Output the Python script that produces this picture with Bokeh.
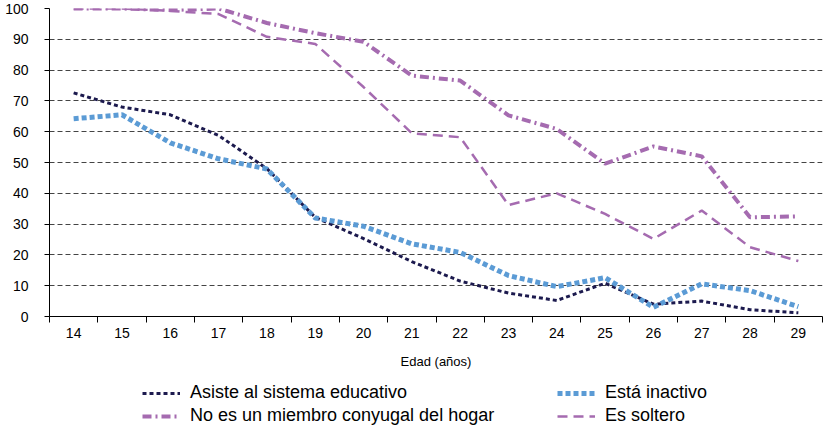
from bokeh.plotting import figure
from bokeh.layouts import column
from bokeh.models import Range1d, FixedTicker, Legend, LegendItem
from bokeh.embed import file_html
from bokeh.resources import INLINE

edades = [14, 15, 16, 17, 18, 19, 20, 21, 22, 23, 24, 25, 26, 27, 28, 29]
asiste = [72.6, 68.0, 65.5, 58.8, 48.0, 32.2, 25.3, 17.8, 11.5, 7.6, 5.2, 10.8, 4.0, 5.0, 2.2, 1.2]
inactivo = [64.2, 65.5, 56.4, 51.2, 47.9, 32.0, 29.3, 23.6, 20.8, 13.3, 9.7, 12.6, 3.0, 10.6, 8.4, 3.2]
no_conyugal = [100.0, 100.0, 99.5, 100.0, 95.3, 92.0, 89.2, 78.2, 76.6, 65.3, 60.9, 49.6, 55.2, 52.0, 32.2, 32.5]
soltero = [100.0, 100.0, 99.2, 98.2, 90.8, 88.5, 74.5, 59.5, 58.2, 36.2, 40.0, 33.3, 25.2, 34.4, 22.5, 18.0]
y_ticks = [0, 10, 20, 30, 40, 50, 60, 70, 80, 90, 100]
series = [asiste, inactivo, no_conyugal, soltero]
labels = ["Asiste al sistema educativo", "Está inactivo",
          "No es un miembro conyugal del hogar", "Es soltero"]

FONT = "Liberation Sans"
NAVY = "#1c1a4e"
BLUE = "#5b9bd5"
PURPLE = "#a56bb0"

STYLES = [
    dict(line_color=NAVY, line_width=3, line_dash="4 3"),
    dict(line_color=BLUE, line_width=5, line_dash="5 3"),
    dict(line_color=PURPLE, line_width=4, line_dash="9 4 2 4"),
    dict(line_color=PURPLE, line_width=2.5, line_dash="10 6"),
]

p = figure(frame_width=773, frame_height=308, output_backend="svg", toolbar_location=None,
           x_range=Range1d(13.5, 29.5), y_range=Range1d(0, 100),
           min_border_top=8, min_border_right=5, min_border_left=49, min_border_bottom=50)
p.outline_line_color = None

p.xaxis.ticker = FixedTicker(ticks=edades, minor_ticks=[e - 0.5 for e in edades] + [edades[-1] + 0.5])
p.xaxis.major_tick_line_color = None
p.xaxis.minor_tick_line_color = "black"
p.xaxis.minor_tick_out = 6
p.xaxis.minor_tick_in = 0
p.xaxis.axis_line_color = "black"
p.xaxis.major_label_text_font = FONT
p.xaxis.major_label_text_font_size = "14px"
p.xaxis.major_label_text_color = "black"
p.xaxis.major_label_standoff = 5
p.xaxis.axis_label = "Edad (años)"
p.xaxis.axis_label_text_font = FONT
p.xaxis.axis_label_text_font_size = "13px"
p.xaxis.axis_label_text_font_style = "normal"
p.xaxis.axis_label_text_color = "black"
p.xaxis.axis_label_standoff = 13

p.yaxis.ticker = FixedTicker(ticks=y_ticks)
p.yaxis.minor_tick_line_color = None
p.yaxis.major_tick_out = 5
p.yaxis.major_tick_in = 0
p.yaxis.major_tick_line_color = "black"
p.yaxis.axis_line_color = "black"
p.yaxis.major_label_text_font = FONT
p.yaxis.major_label_text_font_size = "14px"
p.yaxis.major_label_text_color = "black"
p.yaxis.major_label_standoff = 16

p.xgrid.grid_line_color = None
p.ygrid.ticker = FixedTicker(ticks=y_ticks)
p.ygrid.grid_line_color = "#444444"
p.ygrid.grid_line_dash = "5 3"
p.ygrid.grid_line_width = 1

for ys, st in zip(series, STYLES):
    p.line(edades, ys, **st)

# legend strip below the chart; its lines lie outside its (tiny) ranges, only the legend shows
q = figure(width=827, height=59, output_backend="svg", toolbar_location=None,
           x_range=Range1d(0, 1), y_range=Range1d(0, 1),
           x_axis_location=None, y_axis_location=None,
           min_border=0, min_border_left=0, min_border_right=0, min_border_top=0, min_border_bottom=0)
q.grid.visible = False
q.outline_line_color = None
lr = [q.line(edades, ys, **st) for ys, st in zip(series, STYLES)]


def make_legend(idx, loc):
    lg = Legend(items=[LegendItem(label=labels[i], renderers=[lr[i]]) for i in idx],
                location=loc, orientation="vertical")
    lg.label_text_font = FONT
    lg.label_text_font_size = "18px"
    lg.label_text_color = "black"
    lg.label_standoff = 10
    lg.glyph_width = 38
    lg.glyph_height = 20
    lg.label_height = 20
    lg.spacing = 2
    lg.padding = 0
    lg.margin = 0
    lg.border_line_color = None
    lg.background_fill_alpha = 0
    return lg


q.add_layout(make_legend([0, 2], (93, 4)))
q.add_layout(make_legend([1, 3], (508, 4)))

layout = column(p, q, spacing=0)
open("out.html", "w").write(file_html(layout, INLINE))
